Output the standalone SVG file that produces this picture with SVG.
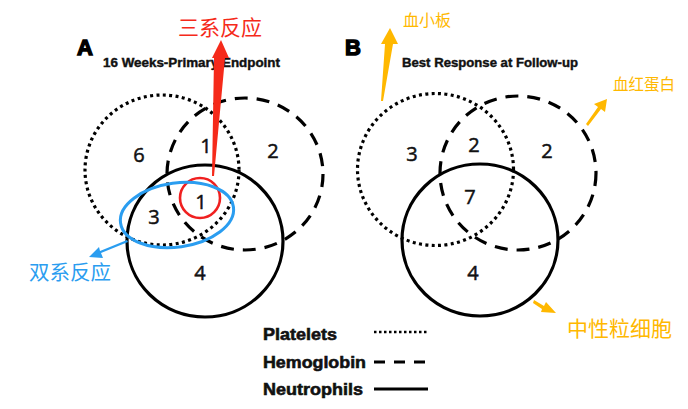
<svg xmlns="http://www.w3.org/2000/svg" width="688" height="409" viewBox="0 0 688 409">
<style>
.c{fill:none;stroke:#000;stroke-width:3.2}
.dot{stroke-dasharray:3 3.4}
.dash{stroke-dasharray:13 9}
.num{font-family:"Open Sans","Liberation Sans",sans-serif;font-size:20px;fill:#111;stroke:#111;stroke-width:0.5;text-anchor:middle}
.pl{font-family:"Liberation Sans",Arial,sans-serif;font-weight:bold;font-size:22px;fill:#000;stroke:#000;stroke-width:1.4}
.ti{font-family:"Liberation Sans",Arial,sans-serif;font-weight:bold;font-size:12.5px;fill:#111;stroke:#111;stroke-width:0.4}
.lg{font-family:"Liberation Sans",Arial,sans-serif;font-weight:bold;font-size:17px;fill:#111;stroke:#111;stroke-width:0.6}
.cn{font-family:"Noto Sans CJK SC","Noto Sans",sans-serif}
</style>
<rect width="688" height="409" fill="#fff"/>
<g id="panelA">
<text class="pl" x="77" y="55">A</text>
<text class="ti" x="103" y="67" textLength="177" lengthAdjust="spacingAndGlyphs">16 Weeks-Primary Endpoint</text>
<g id="A-platelets"><ellipse class="c dot" cx="162" cy="170" rx="77" ry="75"/></g>
<g id="A-hemoglobin"><ellipse class="c dash" cx="245" cy="174" rx="78" ry="76"/></g>
<g id="A-neutrophils"><ellipse class="c" cx="205" cy="241" rx="78" ry="76"/></g>
<g id="A-numbers">
<text class="num" x="139" y="162">6</text>
<text class="num" x="206" y="153">1</text>
<text class="num" x="273" y="158">2</text>
<text class="num" x="201" y="209">1</text>
<text class="num" x="154" y="224">3</text>
<text class="num" x="200" y="280">4</text>
</g>
<g id="A-triple"><circle cx="200" cy="198" r="20" fill="none" stroke="#f02020" stroke-width="2.6"/></g>
<g id="A-double"><ellipse cx="177" cy="215" rx="57" ry="32" transform="rotate(-8 177 215)" fill="none" stroke="#2a9df0" stroke-width="3"/></g>
</g>
<g id="panelB">
<text class="pl" x="345" y="55">B</text>
<text class="ti" x="402" y="67" textLength="176" lengthAdjust="spacingAndGlyphs">Best Response at Follow-up</text>
<g id="B-platelets"><ellipse class="c dot" cx="435.5" cy="169.5" rx="78" ry="76"/></g>
<g id="B-hemoglobin"><ellipse class="c dash" cx="518" cy="173" rx="78" ry="77"/></g>
<g id="B-neutrophils"><ellipse class="c" cx="480" cy="240" rx="78" ry="76"/></g>
<g id="B-numbers">
<text class="num" x="412" y="161">3</text>
<text class="num" x="474" y="152">2</text>
<text class="num" x="547" y="158">2</text>
<text class="num" x="470" y="204">7</text>
<text class="num" x="473" y="280">4</text>
</g>
</g>
<g id="connectors">
<polygon points="221,40 229,58 225,58 214,176 212,176 214,58 212,58" fill="#f52a1a"/>
<polygon points="128,242 101,253 103,258 89,257 99,247 100,251 127,240" fill="#2a9df0"/>
<polygon points="390,28 398,44 393,44 383,101 381,101 385,44 381,44" fill="#ffb800"/>
<polygon points="607,99 605,112 601,109 588,126 586,124 598,107 594,104" fill="#ffb800"/>
<polygon points="556,313 541,312 542,309 533,303 534,300 544,306 546,302" fill="#ffb800"/>
</g>
<g id="labels">
<text class="cn" x="178" y="35" font-size="21" fill="#f52a1a">三系反应</text>
<text class="cn" x="29" y="280" font-size="20.5" fill="#2a9df0">双系反应</text>
<text class="cn" x="403" y="26" font-size="16" fill="#ffb800">血小板</text>
<text class="cn" x="613" y="90" font-size="15.5" fill="#ffb800">血红蛋白</text>
<text class="cn" x="567" y="336" font-size="21" fill="#ffb800">中性粒细胞</text>
</g>
<g id="legend">
<text class="lg" x="263" y="340" textLength="74" lengthAdjust="spacingAndGlyphs">Platelets</text>
<text class="lg" x="263" y="368" textLength="103" lengthAdjust="spacingAndGlyphs">Hemoglobin</text>
<text class="lg" x="263" y="395" textLength="100" lengthAdjust="spacingAndGlyphs">Neutrophils</text>
<line x1="374" y1="332" x2="428" y2="332" stroke="#000" stroke-width="2.6" stroke-dasharray="2.5 2.5"/>
<line x1="374" y1="362" x2="427" y2="362" stroke="#000" stroke-width="3" stroke-dasharray="11 9"/>
<line x1="374" y1="389" x2="428" y2="389" stroke="#000" stroke-width="3"/>
</g>
</svg>
